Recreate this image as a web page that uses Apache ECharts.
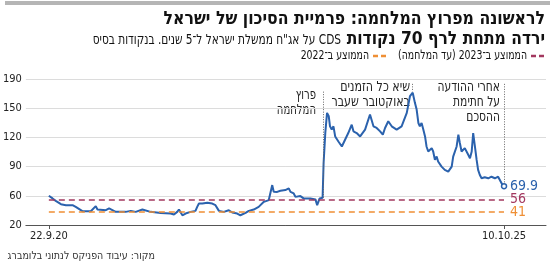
<!DOCTYPE html>
<html>
<head>
<meta charset="utf-8">
<script src="https://cdn.jsdelivr.net/npm/echarts@6/dist/echarts.min.js"></script>
<style>
html,body{margin:0;padding:0;background:#fff;}
#c{width:550px;height:265px;direction:rtl;}
</style>
</head>
<body>
<div id="c"></div>
<script>
// ---- data ----
const dates = [
'2020-09-22','2020-10-07','2020-10-20','2020-11-10','2020-11-30','2020-12-27','2021-01-09','2021-02-05',
'2021-03-11','2021-03-31','2021-04-07','2021-05-11','2021-05-24','2021-06-20','2021-07-30','2021-08-20',
'2021-09-09','2021-10-06','2021-11-08','2021-12-19','2022-01-28','2022-02-11','2022-02-18','2022-02-24',
'2022-03-03','2022-03-17','2022-03-30','2022-04-19','2022-05-09','2022-05-16','2022-05-23','2022-06-06',
'2022-06-26','2022-07-16','2022-07-29','2022-08-12','2022-09-01','2022-09-21','2022-10-05','2022-10-25',
'2022-11-07','2022-11-28','2022-12-11','2022-12-31','2023-01-20','2023-02-10','2023-03-02','2023-03-16',
'2023-03-22','2023-04-05','2023-04-18','2023-05-08','2023-05-22','2023-05-29','2023-06-11','2023-06-18',
'2023-07-08','2023-07-21','2023-08-18','2023-09-07','2023-09-14','2023-09-24','2023-10-06','2023-10-10',
'2023-10-17','2023-10-24','2023-10-31','2023-11-05','2023-11-12','2023-11-19','2023-11-26','2023-12-09',
'2023-12-23','2024-01-05','2024-01-18','2024-02-01','2024-02-08','2024-02-21','2024-03-06','2024-03-26',
'2024-04-15','2024-04-29','2024-05-12','2024-05-26','2024-06-06','2024-06-15','2024-06-28','2024-07-12',
'2024-08-01','2024-08-21','2024-09-11','2024-09-24','2024-10-05','2024-10-14','2024-10-21','2024-10-28',
'2024-11-03','2024-11-10','2024-11-17','2024-11-24','2024-11-30','2024-12-07','2024-12-14','2024-12-21',
'2024-12-27','2025-01-03','2025-01-10','2025-01-16','2025-01-30','2025-02-12','2025-02-26','2025-03-12',
'2025-03-18','2025-04-01','2025-04-08','2025-04-14','2025-04-21','2025-05-04','2025-05-18','2025-05-25',
'2025-06-01','2025-06-07','2025-06-14','2025-06-21','2025-06-27','2025-07-04','2025-07-11','2025-07-24',
'2025-08-07','2025-08-20','2025-09-03','2025-09-16','2025-09-23','2025-10-06','2025-10-10'
];
const cdsValues = [
60,57.3,54.8,51.4,50.4,50.4,48.6,44.2,
44.2,49.4,45.9,45.2,47,43.5,43.5,44.5,
43.5,45.9,43.5,42.4,41.8,40.8,42.8,43.5,
45.9,40,41.8,43.5,44.5,48.6,52.1,52,
52.8,52,50.4,44.5,43.5,45.2,42.8,41.8,
40,42.4,44.5,45.9,48.6,53.8,55.6,71,
64.1,64,65.2,65.9,67.6,64,62.4,58.9,
59.7,57.3,57.3,56.3,50.4,57.3,58,93.5,
124.9,145.2,141.7,131.4,128,131.4,121,115.8,
110.7,117.6,124.5,133.1,126.2,124.5,121,128,
143.5,131.4,129.7,126.2,122.8,129.7,136.6,131.4,
128,131.4,145.2,162.4,165.9,155.5,148.6,134.8,
131.4,134.8,128,121,110.7,105.5,103.9,109,
105.5,96.9,100.3,95.2,90,86.6,84.8,90,
100.3,110.7,122.8,114.2,105.5,109,102.1,98.6,
105.5,124.5,110.7,96.9,86.6,81.4,78,79,
78,79.6,78,79.6,78,70,69.9
];
const avgNames = ['הממוצע ב־2023 (עד המלחמה)','הממוצע ב־2022'];
const avgValues = [56, 43.5];
const avgLabels = ['56','41'];
const yTickValues = [30,60,90,120,150,180];
const yTickLabels = ['20','60','90','120','150','190'];
const xTickDates = ['2020-09-22','2025-10-10'];
const xTickLabels = ['22.9.20','10.10.25'];
const warDate = '2023-10-07';
const peakDate = '2024-10-05';
const dealDate = '2025-10-10';

// ---- styles ----
const BLUE = '#2b62ad', MAROON = '#a3385f', ORANGE = '#ef8f35';
const FONT = '"Liberation Sans Narrow","DejaVu Sans Condensed","Liberation Sans",sans-serif';
const avgColors = [MAROON, ORANGE];
const T = (d) => Date.parse(d + 'T00:00:00Z');

const seriesData = dates.map((d, i) => {
  const it = {value: [T(d), cdsValues[i]]};
  if (i === dates.length - 1) {
    it.symbol = 'circle'; it.symbolSize = 5;
    it.itemStyle = {color: '#fff', borderColor: BLUE, borderWidth: 1.5};
  }
  return it;
});

const first = T(dates[0]), last = T(dates[dates.length - 1]);
const markLines = avgValues.map((v, i) => [
  {coord: [first, v], lineStyle: {color: avgColors[i], type: [6, 4], width: 1.5},
   label: {show: true, position: 'end', formatter: avgLabels[i], color: avgColors[i], fontSize: 14, fontFamily: FONT, distance: 6}},
  {coord: [last, v]}
]);
const dotted = {color: '#666', type: [1, 1.5], width: 1};
markLines.push([{coord: [T(warDate), 167], lineStyle: dotted, label: {show: false}}, {coord: [T(warDate), 58]}]);
markLines.push([{coord: [T(peakDate), 175], lineStyle: dotted, label: {show: false}}, {coord: [T(peakDate), 167]}]);
markLines.push([{coord: [T(dealDate), 175], lineStyle: dotted, label: {show: false}}, {coord: [T(dealDate), 72]}]);

const xTicks = xTickDates.map(T);

function txt(x, y, text, font, sx, extra) {
  return Object.assign({type: 'text', x: x, y: y, scaleX: sx, scaleY: 1,
    style: Object.assign({text: text, font: font, fill: '#111', align: 'right'}, extra || {})});
}

const chart = echarts.init(document.getElementById('c'), null, {renderer: 'canvas'});
const option = {
  animation: false,
  textStyle: {fontFamily: FONT},
  grid: {left: 25, right: 4, top: 79, bottom: 40, containLabel: false},
  xAxis: {
    type: 'value', min: T('2020-06-21'), max: T('2026-03-29'),
    axisLine: {show: true, lineStyle: {color: '#555', width: 1}},
    axisTick: {show: true, customValues: xTicks, length: 4, lineStyle: {color: '#555'}},
    axisLabel: {show: true, customValues: xTicks,
      formatter: (v) => { const k = xTicks.findIndex(t => Math.abs(t - v) < 864e5); return k >= 0 ? xTickLabels[k] : ''; },
      fontSize: 11, color: '#222', fontFamily: FONT, margin: 6},
    splitLine: {show: false}
  },
  yAxis: {
    type: 'value', min: 30, max: 180, interval: 30,
    axisLine: {show: false}, axisTick: {show: false},
    axisLabel: {formatter: (v) => yTickLabels[yTickValues.indexOf(v)] || '', fontSize: 11, color: '#222', fontFamily: FONT, margin: 4},
    splitLine: {lineStyle: {color: '#dcdcdc', width: 1}}
  },
  series: [{
    type: 'line', data: seriesData, showSymbol: true, symbol: 'none',
    lineStyle: {color: BLUE, width: 2}, itemStyle: {color: BLUE},
    endLabel: {show: true, formatter: (p) => String(p.value[1]), color: BLUE, fontSize: 14, fontFamily: FONT, distance: 6},
    markLine: {silent: true, symbol: 'none', data: markLines}
  }],
  graphic: [
    {type: 'rect', shape: {x: 5, y: 1, width: 545, height: 4}, style: {fill: '#b5b5b5'}},
    txt(545, 10, 'לראשונה מפרוץ המלחמה: פרמיית הסיכון של ישראל', 'bold 18px ' + FONT, 0.97),
    txt(545, 30, 'ירדה מתחת לרף 70 נקודות', 'bold 18px ' + FONT, 0.96),
    txt(341, 33, 'CDS על אג"ח ממשלת ישראל ל־5 שנים. בנקודות בסיס', '14px ' + FONT, 0.84),
    // legend
    {type: 'line', shape: {x1: 531, y1: 56, x2: 545, y2: 56}, style: {stroke: MAROON, lineWidth: 2.5, lineDash: [5, 3]}},
    txt(527, 49, avgNames[0], '13px ' + FONT, 0.8),
    {type: 'line', shape: {x1: 373, y1: 56, x2: 387, y2: 56}, style: {stroke: ORANGE, lineWidth: 2.5, lineDash: [5, 3]}},
    txt(369, 49, avgNames[1], '13px ' + FONT, 0.8),
    // annotations
    txt(316, 88, 'פרוץ\nהמלחמה', '14px ' + FONT, 0.8, {fill: '#222', lineHeight: 15}),
    txt(410, 80, 'שיא כל הזמנים\nבאוקטובר שעבר', '14px ' + FONT, 0.88, {fill: '#222', lineHeight: 15}),
    txt(500, 80, 'אחרי ההודעה\nעל חתימת\nההסכם', '14px ' + FONT, 0.85, {fill: '#222', lineHeight: 15}),
    // source
    txt(155, 251, 'מקור: עיבוד הפניקס לנתוני בלומברג', '11px ' + FONT, 0.96, {fill: '#333'})
  ]
};
chart.setOption(option);
</script>
</body>
</html>
